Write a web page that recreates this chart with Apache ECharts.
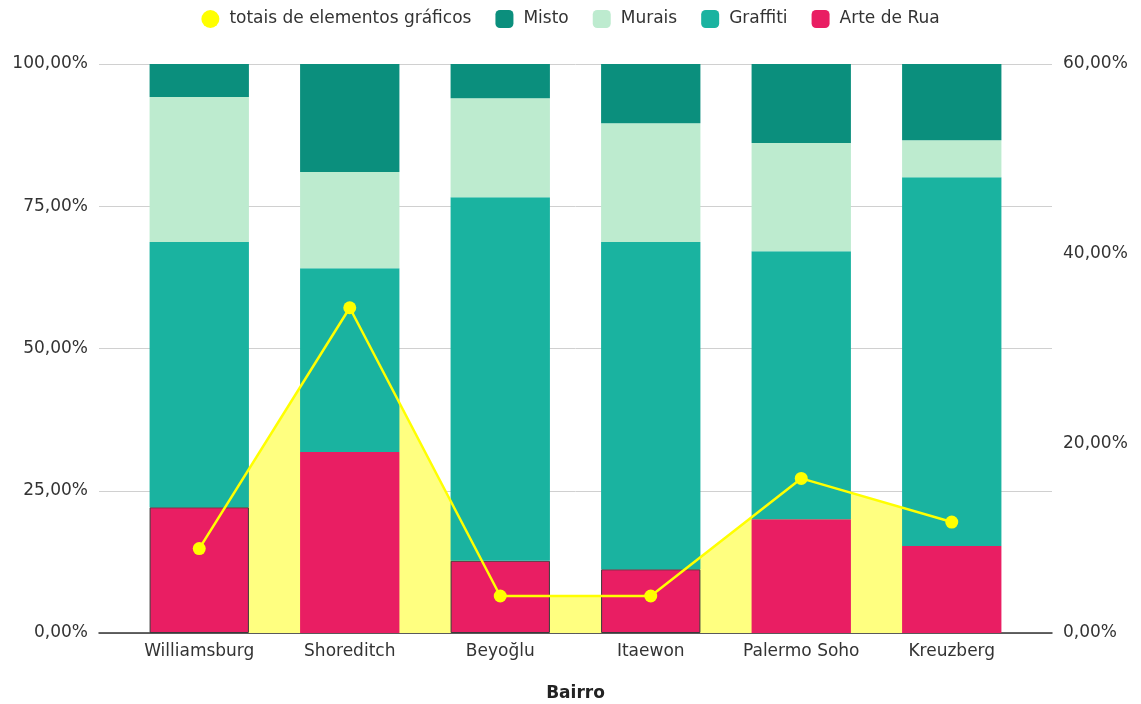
<!DOCTYPE html>
<html>
<head>
<meta charset="utf-8">
<script src="https://cdn.jsdelivr.net/npm/echarts@6/dist/echarts.min.js"></script>
<style>
  html, body { margin: 0; padding: 0; background: #fff; }
  #chart { width: 1141px; height: 704px; }
</style>
</head>
<body>
<div id="chart"></div>
<script>
// bairros
const bairros = ['Williamsburg', 'Shoreditch', 'Beyoğlu', 'Itaewon', 'Palermo Soho', 'Kreuzberg'];
// participação por tipo (%)
const arteDeRua = [22.1, 31.8, 12.7, 11.2, 20.0, 15.3];
const graffiti  = [46.6, 32.3, 63.9, 57.5, 47.1, 64.8];
const murais    = [25.5, 16.9, 17.4, 20.9, 19.0, 6.5];
const misto     = [5.8, 19.0, 6.0, 10.4, 13.9, 13.4];
// totais de elementos gráficos (% eixo direito)
const totais    = [8.9, 34.3, 3.9, 3.9, 16.3, 11.7];

const leftTicks = { min: 0, max: 100, interval: 25 };
const rightTicks = { min: 0, max: 60, interval: 20 };

const fmt = function (v) { return v.toFixed(2).replace('.', ',') + '%'; };
const fontFam = 'DejaVu Sans, Verdana, sans-serif';

// barras de Arte de Rua com contorno escuro
const contorno = [0, 2, 3];

let myChart = echarts.init(document.getElementById('chart'));
let option = {
	animation: false,
	textStyle: { fontFamily: fontFam },
	legend: {
		top: 5,
		left: 'center',
		itemWidth: 18,
		itemHeight: 18,
		itemGap: 24,
		textStyle: { fontSize: 17, color: '#333', fontFamily: fontFam, padding: [0, 0, 0, 5] },
		data: [
			{ name: 'totais de elementos gráficos', icon: 'circle' },
			{ name: 'Misto', icon: 'roundRect' },
			{ name: 'Murais', icon: 'roundRect' },
			{ name: 'Graffiti', icon: 'roundRect' },
			{ name: 'Arte de Rua', icon: 'roundRect' }
		]
	},
	grid: [
		// grade de fundo (linhas e eixo)
		{ left: 99, right: 89, top: 64, bottom: 71, outerBoundsMode: 'none' },
		// área dos dados
		{ left: 124, right: 114, top: 64, bottom: 71, outerBoundsMode: 'none' }
	],
	xAxis: [
		{
			type: 'category',
			gridIndex: 0,
			data: bairros,
			axisLine: { lineStyle: { color: '#333', width: 1.5 } },
			axisTick: { show: false },
			axisLabel: { show: false }
		},
		{
			type: 'category',
			gridIndex: 1,
			data: bairros,
			name: 'Bairro',
			nameLocation: 'middle',
			nameGap: 52,
			nameTextStyle: { fontSize: 17, fontWeight: 'bold', color: '#222', fontFamily: fontFam },
			axisLine: { show: false },
			axisTick: { show: false },
			axisLabel: { interval: 0, fontSize: 17, color: '#333', margin: 10, fontFamily: fontFam }
		}
	],
	yAxis: [
		{
			type: 'value',
			gridIndex: 0,
			min: leftTicks.min, max: leftTicks.max, interval: leftTicks.interval,
			axisLine: { show: false },
			axisTick: { show: false },
			axisLabel: { show: false },
			splitLine: { lineStyle: { color: '#d0d0d0', width: 1 } }
		},
		{
			type: 'value',
			gridIndex: 1,
			min: leftTicks.min, max: leftTicks.max, interval: leftTicks.interval,
			axisLine: { show: false },
			axisTick: { show: false },
			splitLine: { show: false },
			axisLabel: { fontSize: 17, color: '#333', margin: 36, formatter: fmt, fontFamily: fontFam }
		},
		{
			type: 'value',
			gridIndex: 1,
			position: 'right',
			min: rightTicks.min, max: rightTicks.max, interval: rightTicks.interval,
			axisLine: { show: false },
			axisTick: { show: false },
			splitLine: { show: false },
			axisLabel: { fontSize: 17, color: '#333', margin: 36, formatter: fmt, fontFamily: fontFam }
		}
	],
	series: [
		{
			name: 'totais de elementos gráficos',
			type: 'line',
			xAxisIndex: 1,
			yAxisIndex: 2,
			z: 5,
			data: totais,
			symbol: 'circle',
			symbolSize: 13,
			itemStyle: { color: '#ffff00' },
			lineStyle: { color: '#ffff00', width: 2.5 }
		},
		{
			name: 'Arte de Rua',
			type: 'bar',
			xAxisIndex: 1,
			yAxisIndex: 1,
			stack: 'total',
			barWidth: '66%',
			z: 2,
			itemStyle: { color: '#e91e63' },
			data: arteDeRua.map(function (v, i) {
				if (contorno.indexOf(i) >= 0) {
					return { value: v, itemStyle: { borderColor: '#3a3a3a', borderWidth: 1 } };
				}
				return v;
			})
		},
		{
			name: 'Graffiti',
			type: 'bar',
			xAxisIndex: 1,
			yAxisIndex: 1,
			stack: 'total',
			z: 2,
			itemStyle: { color: '#1ab3a0' },
			data: graffiti
		},
		{
			name: 'Murais',
			type: 'bar',
			xAxisIndex: 1,
			yAxisIndex: 1,
			stack: 'total',
			z: 2,
			itemStyle: { color: '#bdebcf' },
			data: murais
		},
		{
			name: 'Misto',
			type: 'bar',
			xAxisIndex: 1,
			yAxisIndex: 1,
			stack: 'total',
			z: 2,
			itemStyle: { color: '#0b8f7d' },
			data: misto
		},
		{
			// área sob a linha, desenhada atrás das barras
			name: 'totais de elementos gráficos',
			type: 'line',
			xAxisIndex: 1,
			yAxisIndex: 2,
			z: 1,
			data: totais,
			symbol: 'none',
			itemStyle: { color: '#ffff00' },
			lineStyle: { width: 0 },
			areaStyle: { color: '#ffff80', opacity: 1 }
		}
	]
};
myChart.setOption(option);
</script>
</body>
</html>
